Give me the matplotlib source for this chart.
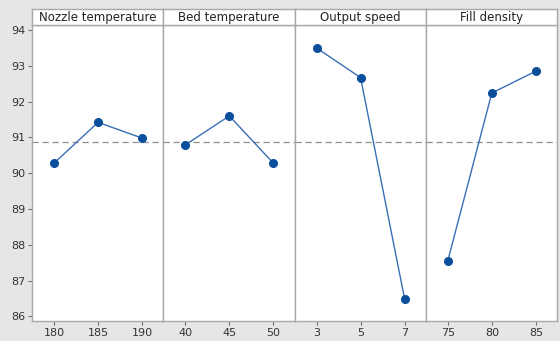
import numpy as np
import matplotlib.pyplot as plt
from matplotlib.patches import Rectangle

factors = ['Nozzle temperature', 'Bed temperature', 'Output speed', 'Fill density']
levels = [['180', '185', '190'], ['40', '45', '50'], ['3', '5', '7'], ['75', '80', '85']]
means = [
    [90.28, 91.42, 90.98],
    [90.79, 91.60, 90.28],
    [93.50, 92.67, 86.49],
    [87.55, 92.24, 92.85],
]
grand_mean = 90.86
yticks = [86, 87, 88, 89, 90, 91, 92, 93, 94]

W, H = 560, 341
fig = plt.figure(figsize=(W / 100, H / 100), dpi=100)
fig.patch.set_facecolor('#e6e6e6')

left, right = 32 / W, 557 / W
bottom, top = 1 - 321 / H, 1 - 25 / H
head_top = 1 - 9 / H
pw = (right - left) / 4
edge = '#a8a8a8'

for i in range(4):
    ax = fig.add_axes([left + i * pw, bottom, pw, top - bottom])
    x = np.arange(3)
    ax.axhline(grand_mean, color='#909090', lw=0.9, ls=(0, (5, 3)), zorder=1)
    ax.plot(x, means[i], color='#3a6fb5', lw=1.0, marker='o', ms=5.5,
            mfc='#0b4f9c', mec='#0b4f9c', zorder=3)
    ax.set_xlim(-0.5, 2.48)
    ax.set_ylim(85.87, 94.14)
    ax.set_xticks(x)
    ax.set_xticklabels(levels[i])
    ax.set_yticks(yticks)
    for s in ax.spines.values():
        s.set_color(edge)
        s.set_linewidth(1.0)
    ax.tick_params(axis='both', colors='#707070', labelcolor='#333333',
                   labelsize=8, length=3, width=0.8, pad=2)
    if i > 0:
        ax.tick_params(axis='y', left=False, labelleft=False)

    hx = fig.add_axes([left + i * pw, top, pw, head_top - top])
    hx.set_xticks([])
    hx.set_yticks([])
    for s in hx.spines.values():
        s.set_color(edge)
        s.set_linewidth(1.0)
    hx.text(0.5, 0.45, factors[i], ha='center', va='center', fontsize=8.5,
            color='#222222', transform=hx.transAxes)

fig.savefig('out.png', dpi=100, facecolor=fig.get_facecolor())
